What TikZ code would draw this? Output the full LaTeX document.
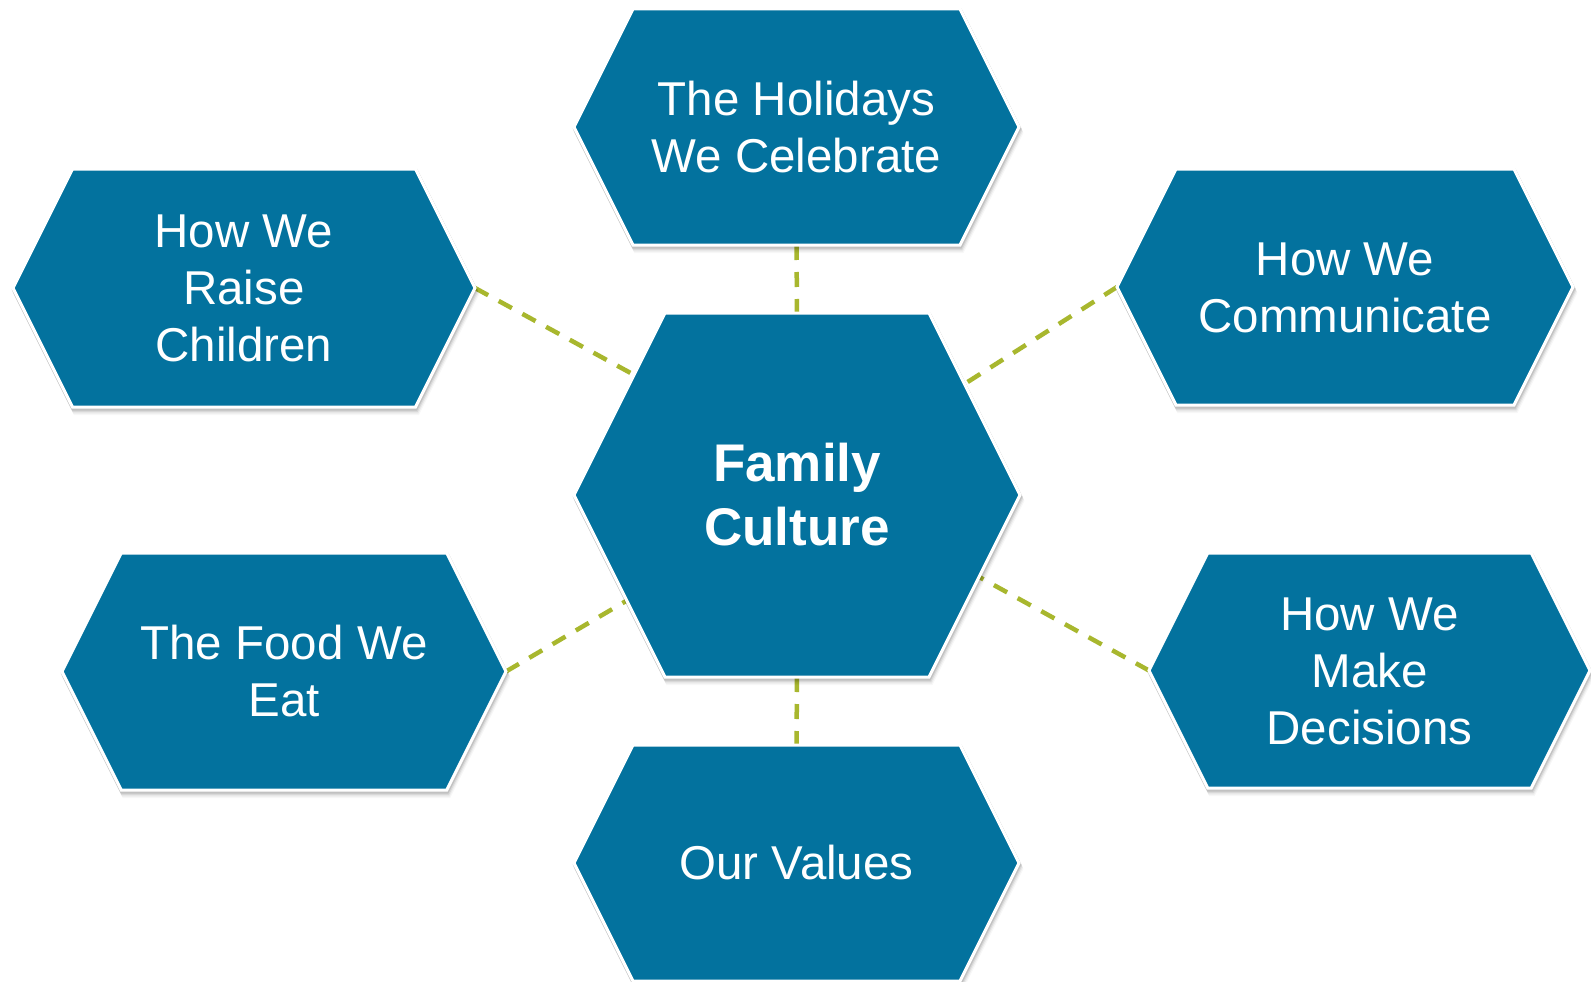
\documentclass[tikz,border=0pt]{standalone}
\usepackage{fontspec}
\setmainfont{Liberation Sans}
\usetikzlibrary{calc}

\definecolor{hexblue}{RGB}{3,114,158}
\definecolor{linkolive}{RGB}{168,183,46}

\pgfdeclarelayer{paper}
\pgfdeclarelayer{links}
\pgfsetlayers{paper,links,main}

\tikzset{
  % flat-topped hexagon with pointed left/right ends, soft drop shadow and white rim
  % #1 = half width, #2 = half height
  pics/hexa/.style n args={2}{code={
    \foreach \d/\op in {1.5/0.10,3/0.08,4.5/0.05,6/0.03}{
      \fill[black,opacity=\op,shift={(0.4*\d,\d)}]
        ({#1+2},0) -- ({#1+2-(#2+2)/2},{-(#2+2)}) -- ({-#1-2+(#2+2)/2},{-(#2+2)})
        -- ({-#1-2},0) -- ({-#1-2+(#2+2)/2},{#2+2}) -- ({#1+2-(#2+2)/2},{#2+2}) -- cycle;
    }
    \filldraw[hexbody]
      (#1,0) -- ({#1-#2/2},{-#2}) -- ({-#1+#2/2},{-#2})
      -- ({-#1},0) -- ({-#1+#2/2},{#2}) -- ({#1-#2/2},{#2}) -- cycle;
    \coordinate (-e)  at (#1,0);
    \coordinate (-w)  at ({-#1},0);
    \coordinate (-ne) at ({#1-#2/2},{-#2});
    \coordinate (-nw) at ({-#1+#2/2},{-#2});
    \coordinate (-se) at ({#1-#2/2},{#2});
    \coordinate (-sw) at ({-#1+#2/2},{#2});
    \coordinate (-n)  at (0,{-#2});
    \coordinate (-s)  at (0,{#2});
    \coordinate (-c)  at (0,5.5);
  }},
  hexbody/.style={fill=hexblue, draw=white, line width=3pt, line join=miter},
  lbl/.style={text=white, align=center, inner sep=0pt,
    font=\fontsize{47.5}{57}\selectfont},
  hublbl/.style={text=white, align=center, inner sep=0pt,
    font=\bfseries\fontsize{53}{64}\selectfont},
  link/.style={draw=linkolive, line width=4.5pt, dash pattern=on 15pt off 12pt},
}

\begin{document}
\begin{tikzpicture}[x=1pt,y=-1pt]
\useasboundingbox (0,0) rectangle (1591,982);
\begin{pgfonlayer}{paper}
  \fill[white] (0,0) rectangle (1591,982);
\end{pgfonlayer}

% hexagons
\pic (hol) at (796.5,127)   {hexa={222.5}{118}};
\pic (cen) at (797,495)     {hexa={223}{182}};
\pic (rai) at (244,288)     {hexa={231}{119}};
\pic (com) at (1345,287)    {hexa={228}{118}};
\pic (foo) at (284,671.5)   {hexa={222}{118.5}};
\pic (dec) at (1369.5,670.5){hexa={220.5}{117.5}};
\pic (val) at (796.5,863)   {hexa={222.5}{118}};

% meeting points on the slanted sides of the central hexagon
\coordinate (cen-ul) at ($(cen-nw)!0.34!(cen-w)$);
\coordinate (cen-ur) at ($(cen-ne)!0.39!(cen-e)$);
\coordinate (cen-ll) at ($(cen-w)!0.58!(cen-sw)$);
\coordinate (cen-lr) at ($(cen-e)!0.45!(cen-se)$);

% dashed links, kept beneath the hexagons
\begin{pgfonlayer}{links}
  \draw[link] (hol-s) -- (cen-n);
  \draw[link] (cen-s) -- (val-n);
  \draw[link] (rai-e) -- (cen-ul);
  \draw[link] (com-w) -- (cen-ur);
  \draw[link] (foo-e) -- (cen-ll);
  \draw[link] (dec-w) -- (cen-lr);
\end{pgfonlayer}

% labels
\node[hublbl] (hub)  at (cen-c) {\strut Family\\Culture\strut};
\node[lbl] (holt) at (hol-c) {\strut The Holidays\\We Celebrate\strut};
\node[lbl] (rait) at (rai-c) {\strut How We\\Raise\\Children\strut};
\node[lbl] (comt) at (com-c) {\strut How We\\Communicate\strut};
\node[lbl] (foot) at (foo-c) {\strut The Food We\\Eat\strut};
\node[lbl] (dect) at (dec-c) {\strut How We\\Make\\Decisions\strut};
\node[lbl] (valt) at (val-c) {\strut Our Values\strut};
\end{tikzpicture}
\end{document}
